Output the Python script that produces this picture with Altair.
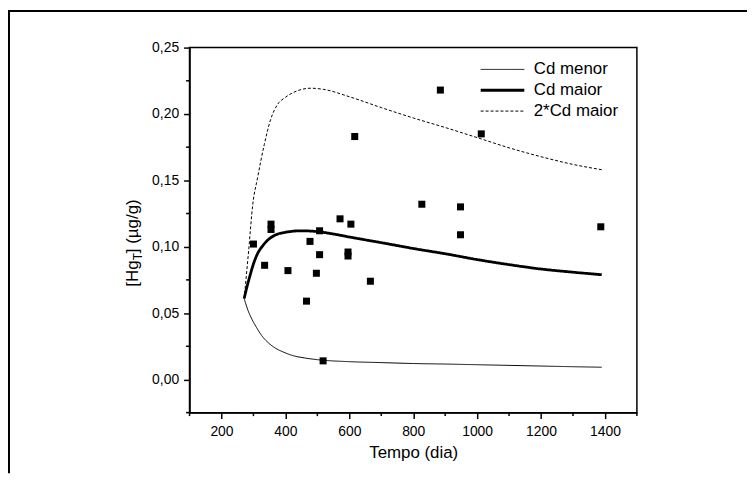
import altair as alt
import pandas as pd

FONT = "Liberation Sans"

# observed points
obs_x = [300, 335, 355, 355, 408, 466, 477, 497, 507, 507, 518, 571, 596, 596,
         605, 617, 666, 827, 885, 948, 948, 1013, 1387]
obs_y = [0.102, 0.086, 0.117, 0.113, 0.082, 0.059, 0.104, 0.080, 0.112, 0.094,
         0.014, 0.121, 0.096, 0.093, 0.117, 0.183, 0.074, 0.132, 0.218, 0.130,
         0.109, 0.185, 0.115]

# model curves
menor_x = [271, 283, 295, 310, 326, 345, 368, 395, 420, 460, 500, 600, 700, 800,
           900, 1000, 1100, 1200, 1300, 1390]
menor_y = [0.061, 0.052, 0.0455, 0.039, 0.033, 0.028, 0.0237, 0.0205, 0.0182,
           0.0162, 0.0149, 0.0134, 0.0127, 0.0120, 0.0116, 0.0111, 0.0106,
           0.0101, 0.0096, 0.0092]

maior_x = [271, 280, 289, 300, 314, 330, 345, 370, 397, 448, 500, 552, 603, 706,
           809, 900, 1000, 1100, 1200, 1300, 1390]
maior_y = [0.061, 0.070, 0.078, 0.087, 0.0953, 0.101, 0.105, 0.109, 0.1107,
           0.112, 0.1114, 0.1095, 0.1072, 0.1028, 0.0983, 0.0947, 0.0903,
           0.0865, 0.0832, 0.0808, 0.0789]

dobro_x = [271, 285, 298, 313, 334, 354, 375, 400, 440, 480, 520, 600, 700, 800,
           900, 1000, 1100, 1200, 1300, 1390]
dobro_y = [0.061, 0.097, 0.132, 0.152, 0.177, 0.196, 0.207, 0.2125, 0.2177,
           0.2194, 0.2185, 0.213, 0.2048, 0.197, 0.1898, 0.1822, 0.1745,
           0.1678, 0.162, 0.158]

series_names = ["Cd menor", "Cd maior", "2*Cd maior"]

x_major = [200, 400, 600, 800, 1000, 1200, 1400]
x_minor = [100, 300, 500, 700, 900, 1100, 1300, 1500]
y_major = [0.0, 0.05, 0.10, 0.15, 0.20, 0.25]
y_minor = [-0.025, 0.025, 0.075, 0.125, 0.175, 0.225]

obs = pd.DataFrame({"x": obs_x, "y": obs_y})
curves = pd.concat([
    pd.DataFrame({"x": menor_x, "y": menor_y, "serie": series_names[0]}),
    pd.DataFrame({"x": maior_x, "y": maior_y, "serie": series_names[1]}),
    pd.DataFrame({"x": dobro_x, "y": dobro_y, "serie": series_names[2]}),
])

xs = alt.Scale(domain=[100, 1500], nice=False, zero=False)
ys = alt.Scale(domain=[-0.025, 0.25], nice=False, zero=False)

x_axis = alt.Axis(values=x_major, title="Tempo (dia)", grid=False, tickSize=6,
                  tickWidth=1.5, domainWidth=1.5, domainColor="black",
                  tickColor="black", labelFontSize=14, labelPadding=6,
                  labelColor="black", titleFontSize=17, titleFontWeight="normal",
                  titleColor="black", titlePadding=6, labelFont=FONT,
                  titleFont=FONT, format="d")
y_axis = alt.Axis(values=y_major, title=None, grid=False, tickSize=6,
                  tickWidth=1.5, domainWidth=1.5, domainColor="black",
                  tickColor="black", labelFontSize=14, labelPadding=5,
                  labelColor="black", labelFont=FONT,
                  labelExpr="replace(format(datum.value, '.2f'), '.', ',')")

legend = alt.Legend(title=None, orient="none", legendX=292, legendY=11.5,
                    labelFontSize=17, labelFont=FONT, labelColor="black",
                    symbolSize=1936, symbolType="stroke", clipHeight=21,
                    rowPadding=0, labelOffset=8, padding=0,
                    symbolStrokeColor="black", labelLimit=300)

lines = alt.Chart(curves).mark_line(color="black", interpolate="monotone").encode(
    x=alt.X("x:Q", scale=xs, axis=x_axis),
    y=alt.Y("y:Q", scale=ys, axis=y_axis),
    detail="serie:N",
    strokeWidth=alt.StrokeWidth("serie:N", scale=alt.Scale(type="ordinal", domain=series_names, range=[1, 2.8, 1]), legend=legend),
    strokeDash=alt.StrokeDash("serie:N", scale=alt.Scale(type="ordinal", domain=series_names, range=[[1, 0], [1, 0], [3, 2]]), legend=legend),
)

points = alt.Chart(obs).mark_point(shape="square", filled=True, size=50,
                                   color="black", opacity=1).encode(
    x=alt.X("x:Q", scale=xs),
    y=alt.Y("y:Q", scale=ys),
)

xminor = alt.Chart(pd.DataFrame({"x": x_minor})).mark_rule(
    color="black", strokeWidth=1.5).encode(
    x=alt.X("x:Q", scale=xs), y=alt.value(368), y2=alt.value(371.5))

yminor = alt.Chart(pd.DataFrame({"y": y_minor})).mark_rule(
    color="black", strokeWidth=1.5).encode(
    y=alt.Y("y:Q", scale=ys), x=alt.value(0), x2=alt.value(-3.5))

one = alt.Data(values=[{}])
title_a = alt.Chart(one).mark_text(text="[Hg", angle=270, align="left",
                                   baseline="alphabetic", fontSize=17, font=FONT,
                                   color="black").encode(x=alt.value(-52), y=alt.value(241))
title_b = alt.Chart(one).mark_text(text="T", angle=270, align="left",
                                   baseline="alphabetic", fontSize=12, font=FONT,
                                   color="black").encode(x=alt.value(-48), y=alt.value(214.5))
title_c = alt.Chart(one).mark_text(text="] (µg/g)", angle=270, align="left",
                                   baseline="alphabetic", fontSize=17, font=FONT,
                                   color="black").encode(x=alt.value(-52), y=alt.value(207.2))

frame_top = alt.Chart(one).mark_rule(color="black", strokeWidth=2).encode(
    x=alt.value(-183), x2=alt.value(562), y=alt.value(-37))
frame_left = alt.Chart(one).mark_rule(color="black", strokeWidth=2).encode(
    x=alt.value(-182), y=alt.value(-38), y2=alt.value(429))

chart = alt.layer(
    lines, xminor, yminor, points, title_a, title_b, title_c, frame_top, frame_left
).properties(
    width=451, height=368,
    autosize=alt.AutoSizeParams(type="none"),
    padding={"left": 183, "top": 38, "right": 111, "bottom": 67},
).configure(font=FONT, background="white").configure_view(
    stroke="black", strokeWidth=1.5)

chart.save("out.html", embed_options={"renderer": "svg", "actions": False})
